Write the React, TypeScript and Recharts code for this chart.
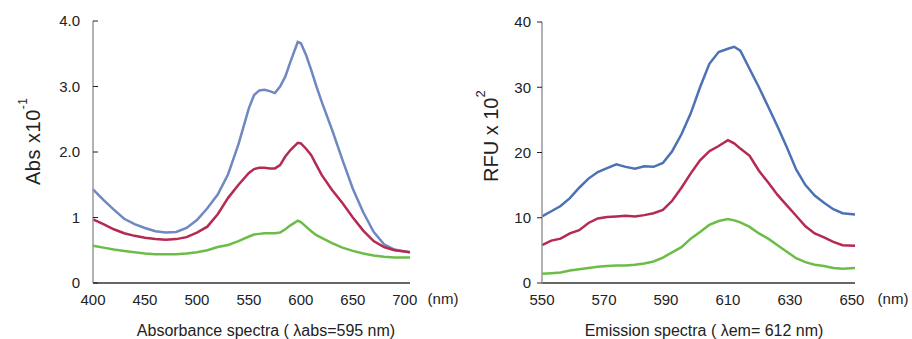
import React from "react";
import { LineChart, Line, XAxis, YAxis } from "recharts";

// ---------- Absorbance spectra (left) ----------
const absNm = [400,410,420,430,440,450,460,470,480,490,500,510,520,530,540,550,555,560,565,570,575,580,585,590,597,600,605,610,615,620,630,640,650,660,670,680,690,700,705];
const absBlue = [1.43,1.27,1.12,0.98,0.90,0.84,0.79,0.77,0.78,0.84,0.96,1.14,1.35,1.66,2.12,2.67,2.87,2.94,2.95,2.93,2.90,3.00,3.15,3.38,3.68,3.66,3.48,3.25,3.00,2.77,2.34,1.88,1.44,1.08,0.78,0.59,0.51,0.48,0.47];
const absRed = [0.97,0.90,0.82,0.76,0.72,0.69,0.67,0.66,0.67,0.70,0.77,0.86,1.05,1.30,1.50,1.68,1.74,1.76,1.76,1.75,1.75,1.80,1.93,2.03,2.14,2.13,2.05,1.95,1.80,1.65,1.42,1.22,1.00,0.80,0.64,0.55,0.50,0.48,0.47];
const absGreen = [0.57,0.54,0.51,0.49,0.47,0.45,0.44,0.44,0.44,0.45,0.47,0.50,0.55,0.58,0.64,0.71,0.74,0.75,0.76,0.76,0.76,0.77,0.82,0.88,0.95,0.93,0.86,0.79,0.73,0.69,0.61,0.54,0.49,0.45,0.42,0.40,0.39,0.39,0.39];
const absXTicks = [400,450,500,550,600,650,700];
const absYTicks = [0,1,2,3,4];
const absYTickLabels = ["0","1","2.0","3.0","4.0"];

// ---------- Emission spectra (right) ----------
const emNm = [550,553,556,559,562,565,568,571,574,577,580,583,586,589,592,595,598,601,604,607,610,612,614,617,620,623,626,629,632,635,638,641,644,647,651];
const emBlue = [10.2,11.0,11.8,13.0,14.6,16.0,17.0,17.6,18.2,17.8,17.5,17.9,17.8,18.4,20.2,22.8,26.0,30.0,33.6,35.4,35.9,36.2,35.6,32.8,30.0,27.0,24.0,20.8,17.4,15.0,13.4,12.3,11.3,10.7,10.5];
const emRed = [5.8,6.5,6.8,7.6,8.1,9.2,9.9,10.1,10.2,10.3,10.2,10.4,10.7,11.2,12.6,14.6,16.8,18.8,20.2,21.0,21.9,21.4,20.6,19.5,17.2,15.4,13.5,11.9,10.3,8.7,7.6,7.0,6.3,5.8,5.7];
const emGreen = [1.4,1.5,1.6,1.9,2.1,2.3,2.5,2.6,2.7,2.7,2.8,3.0,3.3,3.9,4.7,5.5,6.8,7.8,8.9,9.5,9.8,9.6,9.3,8.6,7.6,6.8,5.8,4.8,3.8,3.2,2.8,2.6,2.3,2.2,2.3];
const emXTicks = [550,570,590,610,630,650];
const emYTicks = [0,10,20,30,40];

const absData = absNm.map((nm, i) => ({ nm, blue: absBlue[i], red: absRed[i], green: absGreen[i] }));
const emData = emNm.map((nm, i) => ({ nm, blue: emBlue[i], red: emRed[i], green: emGreen[i] }));

const FONT = "'Liberation Sans', Arial, sans-serif";
const tickStyle = { fontSize: 15, fill: "#222", fontFamily: FONT };
const RED = "#b52a50";
const GREEN = "#6cbd48";

export default function App() {
  return (
    <div style={{ position: "absolute", left: 0, top: 0, width: 912, height: 339, background: "#fff", fontFamily: FONT }}>
      <div style={{ position: "absolute", left: 0, top: 0 }}>
        <LineChart width={460} height={339} data={absData} margin={{ top: 21, right: 50, bottom: 26, left: 33 }}>
          <XAxis
            dataKey="nm"
            type="number"
            domain={[400, 705]}
            ticks={absXTicks}
            height={30}
            tickLine={false}
            tickSize={0}
            tickMargin={11}
            axisLine={{ stroke: "#333", strokeWidth: 1.5 }}
            tick={tickStyle}
          />
          <YAxis
            type="number"
            domain={[0, 4]}
            ticks={absYTicks}
            width={60}
            tickSize={-5}
            tickMargin={18}
            axisLine={{ stroke: "#999", strokeWidth: 1.5 }}
            tickLine={{ stroke: "#222", strokeWidth: 1 }}
            tick={tickStyle}
            tickFormatter={(v: number) => absYTickLabels[absYTicks.indexOf(v)] ?? String(v)}
          />
          <Line dataKey="blue" stroke="#6f88c2" strokeWidth={2.5} dot={false} isAnimationActive={false} />
          <Line dataKey="red" stroke={RED} strokeWidth={2.5} dot={false} isAnimationActive={false} />
          <Line dataKey="green" stroke={GREEN} strokeWidth={2.5} dot={false} isAnimationActive={false} />
        </LineChart>
      </div>
      <div style={{ position: "absolute", left: 460, top: 0 }}>
        <LineChart width={452} height={339} data={emData} margin={{ top: 22, right: 57, bottom: 26, left: 22 }}>
          <XAxis
            dataKey="nm"
            type="number"
            domain={[550, 651]}
            ticks={emXTicks}
            height={30}
            tickLine={false}
            tickSize={0}
            tickMargin={11}
            axisLine={{ stroke: "#333", strokeWidth: 1.5 }}
            tick={tickStyle}
          />
          <YAxis
            type="number"
            domain={[0, 40]}
            ticks={emYTicks}
            width={60}
            tickSize={5}
            tickMargin={6}
            axisLine={{ stroke: "#999", strokeWidth: 1.5 }}
            tickLine={{ stroke: "#222", strokeWidth: 1 }}
            tick={tickStyle}
          />
          <Line dataKey="blue" stroke="#4d72b3" strokeWidth={2.5} dot={false} isAnimationActive={false} />
          <Line dataKey="red" stroke={RED} strokeWidth={2.5} dot={false} isAnimationActive={false} />
          <Line dataKey="green" stroke={GREEN} strokeWidth={2.5} dot={false} isAnimationActive={false} />
        </LineChart>
      </div>
      <svg width={912} height={339} style={{ position: "absolute", left: 0, top: 0, pointerEvents: "none" }}>
        <g fontFamily={FONT} fill="#222">
          <text x={443} y={304} fontSize={15} textAnchor="middle">(nm)</text>
          <text x={893} y={304} fontSize={15} textAnchor="middle">(nm)</text>
          <text x={266} y={336} fontSize={16} textAnchor="middle">Absorbance spectra ( λabs=595 nm)</text>
          <text x={704} y={336} fontSize={16} textAnchor="middle">Emission spectra ( λem= 612 nm)</text>
          <text transform="translate(40,185) rotate(-90)" fontSize={20} letterSpacing={0.5}>
            Abs x10<tspan dy={-13} fontSize={12}>-1</tspan>
          </text>
          <text transform="translate(498,182) rotate(-90)" fontSize={20}>
            RFU x 10<tspan dy={-13} fontSize={13}>2</tspan>
          </text>
        </g>
      </svg>
    </div>
  );
}
